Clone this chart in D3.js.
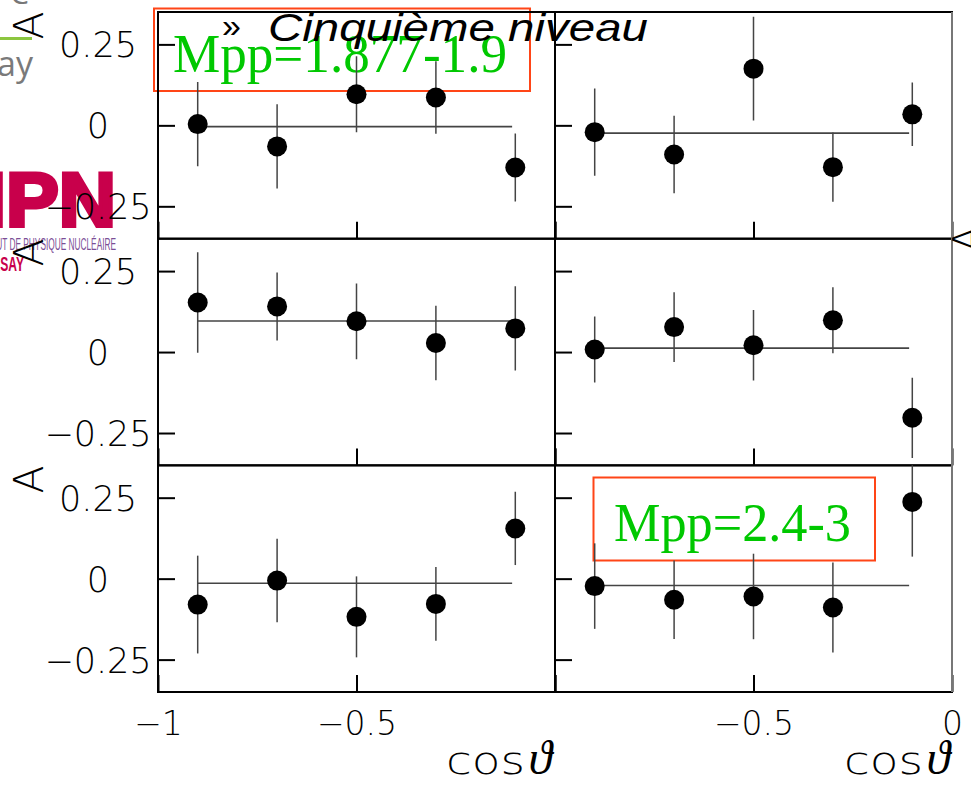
<!DOCTYPE html>
<html>
<head>
<meta charset="utf-8">
<script src="https://cdn.jsdelivr.net/npm/d3@7"></script>
<style>
  body { margin: 0; background: #fff; }
  svg { display: block; }
</style>
</head>
<body>
<div id="chart"></div>
<script>
// cos(theta) bin centres, same for every panel
const cosTheta = [-0.9, -0.7, -0.5, -0.3, -0.1];

// asymmetry A per panel (top-left, top-right, mid-left, mid-right, bottom-left, bottom-right)
const asymmetry = [
  [0.004, -0.065, 0.096, 0.086, -0.130],
  [-0.021, -0.090, 0.175, -0.129, 0.034],
  [0.153, 0.141, 0.095, 0.028, 0.073],
  [0.008, 0.077, 0.021, 0.098, -0.203],
  [-0.080, -0.006, -0.118, -0.078, 0.155],
  [-0.023, -0.065, -0.055, -0.089, 0.237]
];
const errors = [
  [0.130, 0.130, 0.117, 0.112, 0.105],
  [0.135, 0.120, 0.160, 0.107, 0.098],
  [0.155, 0.105, 0.117, 0.115, 0.130],
  [0.102, 0.108, 0.109, 0.102, 0.124],
  [0.151, 0.129, 0.125, 0.114, 0.113],
  [0.132, 0.121, 0.132, 0.139, 0.169]
];
// constant fit per panel, drawn over fitRange
const fitLevel = [-0.004, -0.024, 0.096, 0.012, -0.014, -0.021];
const fitRange = [-0.9, -0.108];

const yTicks = [-0.25, 0, 0.25];
const xTicks = [-1, -0.5, 0];
const massLabels = ["Mpp=1.877-1.9", "Mpp=2.4-3"];

const W = 971, H = 786;
const colLeft = [158, 555], colWidth = 397;
const rowTop = [12, 238.7, 465.3], rowHeight = 226.7;
const thin = "'DejaVu Sans', sans-serif";

const svg = d3.select("#chart").append("svg")
  .attr("width", W).attr("height", H)
  .style("background", "#fff");

// --- slide background bits (logos on the left) ---
const logo = svg.append("g");
logo.append("text").attr("x", 10).attr("y", 4)
  .style("font-family", "'Open Sans', sans-serif").style("font-size", "30px")
  .attr("fill", "#777").text("C");
logo.append("rect").attr("x", 0).attr("y", 37).attr("width", 32).attr("height", 3)
  .attr("fill", "#8cc63f");
logo.append("text").attr("x", -3).attr("y", 76)
  .style("font-family", "'Open Sans', sans-serif").style("font-size", "34px")
  .attr("fill", "#7a7a7a").text("ay");
logo.append("text").attr("x", 116).attr("y", 226).attr("text-anchor", "end")
  .attr("textLength", 132).attr("lengthAdjust", "spacingAndGlyphs")
  .style("font-family", "'Liberation Sans', sans-serif").style("font-weight", "bold")
  .style("font-size", "76px").attr("fill", "#c8004b")
  .attr("stroke", "#c8004b").attr("stroke-width", 4).attr("stroke-linejoin", "miter")
  .text("IPN");
logo.append("text").attr("x", -30).attr("y", 250)
  .attr("textLength", 146).attr("lengthAdjust", "spacingAndGlyphs")
  .style("font-family", "'Liberation Sans', sans-serif").style("font-size", "16px")
  .attr("fill", "#7b4e96").text("INSTITUT DE PHYSIQUE NUCLÉAIRE");
logo.append("text").attr("x", -18).attr("y", 271)
  .attr("textLength", 42).attr("lengthAdjust", "spacingAndGlyphs")
  .style("font-family", "'Liberation Sans', sans-serif").style("font-weight", "bold")
  .style("font-size", "21px").attr("fill", "#c8004b").text("ORSAY");

// red boxes behind the plot
svg.append("rect").attr("x", 154).attr("y", 8.5).attr("width", 376).attr("height", 82.5)
  .attr("fill", "none").attr("stroke", "#ff4517").attr("stroke-width", 2);
svg.append("rect").attr("x", 593.5).attr("y", 477.5).attr("width", 281.5).attr("height", 83)
  .attr("fill", "none").attr("stroke", "#ff4517").attr("stroke-width", 2);

svg.append("text").attr("x", 173).attr("y", 72)
  .attr("textLength", 334).attr("lengthAdjust", "spacingAndGlyphs")
  .style("font-family", "'Liberation Serif', serif").style("font-size", "55px")
  .attr("fill", "#00c800").text(massLabels[0]);
svg.append("text").attr("x", 614).attr("y", 541)
  .attr("textLength", 237).attr("lengthAdjust", "spacingAndGlyphs")
  .style("font-family", "'Liberation Serif', serif").style("font-size", "55px")
  .attr("fill", "#00c800").text(massLabels[1]);

function fmt(d) {
  if (d === 0) return "0";
  return (d < 0 ? "\u2212" : "") + Math.abs(d);
}

// --- the six panels ---
asymmetry.forEach(function(vals, i) {
  let row = Math.floor(i / 2), col = i % 2;
  let x = d3.scaleLinear().domain([-1, 0]).range([colLeft[col], colLeft[col] + colWidth]);
  let y = d3.scaleLinear().domain([-0.35, 0.35]).range([rowTop[row] + rowHeight, rowTop[row]]);
  let g = svg.append("g");

  let clipId = "clip" + i;
  svg.append("clipPath").attr("id", clipId).append("rect")
    .attr("x", colLeft[col]).attr("y", rowTop[row])
    .attr("width", colWidth).attr("height", rowHeight);

  // y axis ticks
  let ya = g.append("g").attr("transform", "translate(" + colLeft[col] + ",0)")
    .call(d3.axisLeft(y).tickValues(yTicks).tickSize(-17).tickFormat(col === 0 ? fmt : ""));
  ya.select(".domain").remove();
  ya.selectAll("line").attr("stroke", "#000").attr("stroke-width", 2);
  ya.selectAll("text")
    .attr("x", -60).attr("dy", "0.36em").attr("text-anchor", "middle")
    .style("font-family", thin).style("font-weight", 200).style("font-size", "35px")
    .attr("fill", "#000");

  // x axis ticks
  let xa = g.append("g").attr("transform", "translate(0," + (rowTop[row] + rowHeight) + ")")
    .call(d3.axisBottom(x).tickValues(xTicks).tickSize(-17).tickFormat(function(d) {
      if (row !== 2) return "";
      if (col === 0 && d === 0) return "";
      if (col === 1 && d === -1) return "";
      return fmt(d);
    }));
  xa.select(".domain").remove();
  xa.selectAll("line").attr("stroke", "#000").attr("stroke-width", 2);
  xa.selectAll("text")
    .attr("y", 43).attr("dy", "0")
    .style("font-family", thin).style("font-weight", 200).style("font-size", "33px")
    .attr("fill", "#000");

  // frame
  g.append("rect")
    .attr("x", colLeft[col]).attr("y", rowTop[row])
    .attr("width", colWidth).attr("height", rowHeight)
    .attr("fill", "none").attr("stroke", "#000").attr("stroke-width", 2);

  let plot = g.append("g").attr("clip-path", "url(#" + clipId + ")");

  // fit line
  plot.append("line")
    .attr("x1", x(fitRange[0])).attr("x2", x(fitRange[1]))
    .attr("y1", y(fitLevel[i])).attr("y2", y(fitLevel[i]))
    .attr("stroke", "#444").attr("stroke-width", 1.6);

  let pts = cosTheta.map(function(c, k) { return { c: c, v: vals[k], e: errors[i][k] }; });

  plot.selectAll(".err").data(pts).enter().append("line")
    .attr("class", "err")
    .attr("x1", function(d) { return x(d.c); }).attr("x2", function(d) { return x(d.c); })
    .attr("y1", function(d) { return y(d.v + d.e); })
    .attr("y2", function(d) { return y(d.v - d.e); })
    .attr("stroke", "#444").attr("stroke-width", 1.5);

  plot.selectAll(".dot").data(pts).enter().append("circle")
    .attr("class", "dot")
    .attr("cx", function(d) { return x(d.c); })
    .attr("cy", function(d) { return y(d.v); })
    .attr("r", 10).attr("fill", "#000");
});

// lighter right border
svg.append("line").attr("x1", 952).attr("x2", 952).attr("y1", 12).attr("y2", 692)
  .attr("stroke", "#777").attr("stroke-width", 2);

// rotated "A" axis labels
[25.5, 252.5, 479.5].forEach(function(cy) {
  svg.append("text").attr("transform", "translate(43," + cy + ") rotate(-90)")
    .attr("text-anchor", "middle")
    .style("font-family", thin).style("font-weight", 200).style("font-size", "41px")
    .attr("fill", "#000").text("A");
});
svg.append("text").attr("transform", "translate(982,239) rotate(-90)")
  .attr("text-anchor", "middle")
  .style("font-family", thin).style("font-weight", 200).style("font-size", "41px")
  .attr("fill", "#000").text("A");

// cos theta labels
[552, 950].forEach(function(xe) {
  svg.append("text").attr("x", xe - 27).attr("y", 774).attr("text-anchor", "end")
    .attr("textLength", 79).attr("lengthAdjust", "spacingAndGlyphs")
    .style("font-family", thin).style("font-weight", 200).style("font-size", "38px")
    .attr("fill", "#000").text("cos");
  svg.append("text").attr("x", xe).attr("y", 774).attr("text-anchor", "end")
    .style("font-family", "'Liberation Serif', 'DejaVu Serif', serif").style("font-style", "italic")
    .style("font-size", "48px").attr("fill", "#000")
    .text("\u03D1");
});

// slide title on top
svg.append("text").attr("x", 222).attr("y", 37)
  .style("font-family", "'Liberation Sans', Arial, sans-serif").style("font-size", "34px")
  .attr("fill", "#000").text("\u00BB");
svg.append("text").attr("x", 268).attr("y", 41)
  .attr("textLength", 380).attr("lengthAdjust", "spacingAndGlyphs")
  .style("font-family", "'Liberation Sans', Arial, sans-serif").style("font-style", "italic")
  .style("font-size", "39px").attr("fill", "#000").text("Cinquième niveau");
</script>
</body>
</html>
